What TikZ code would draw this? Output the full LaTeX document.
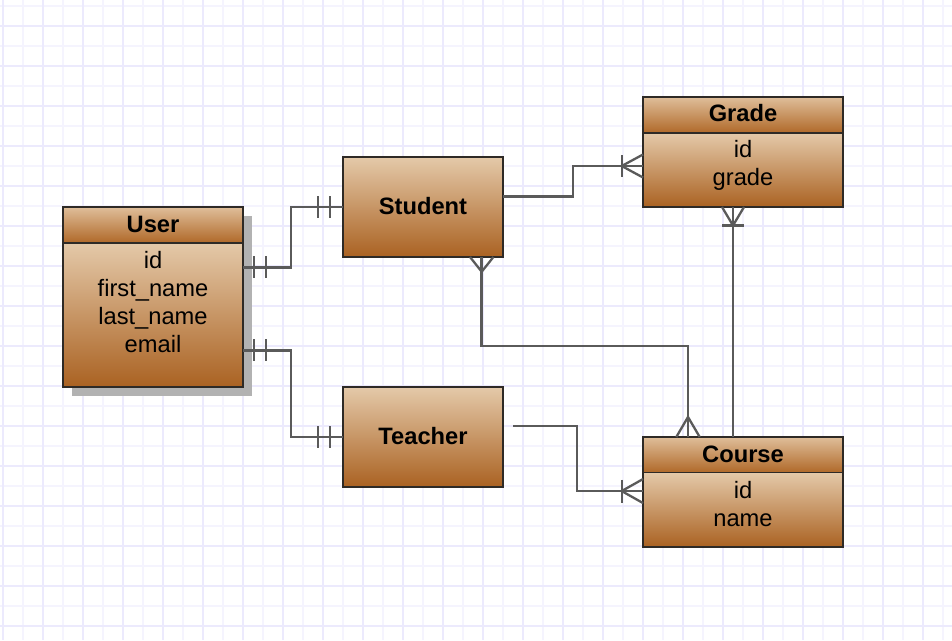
\documentclass[tikz,border=0pt]{standalone}
\usepackage{fontspec}
\setmainfont{Liberation Sans}
\usetikzlibrary{calc}
\definecolor{gmajor}{HTML}{ECEAFD}
\definecolor{gminor}{HTML}{F5F4FE}
\definecolor{btop}{HTML}{E4C9A9}
\definecolor{bbot}{HTML}{AA6222}
\definecolor{htop}{HTML}{DFBE9A}
\definecolor{hbot}{HTML}{B06929}
\definecolor{bord}{HTML}{2E2A26}
\definecolor{linec}{HTML}{5A5A5A}
\definecolor{shad}{HTML}{B2B2B2}
\tikzset{
  boxbase/.style={draw=bord, line width=1.8pt, inner sep=0pt, outer sep=0pt, anchor=north west},
  bodybox/.style={boxbase, top color=btop, bottom color=bbot},
  headbox/.style={boxbase, top color=htop, bottom color=hbot},
  txt/.style={anchor=base, inner sep=0pt, font=\fontsize{23.7}{28}\selectfont},
  btxt/.style={txt, font=\fontsize{23.7}{28}\selectfont\bfseries},
  conn/.style={draw=linec, line width=2.6pt},
  markl/.style={draw=linec, line width=2.3pt},
  gridmin/.style={draw=gminor, line width=1.6pt},
  gridmaj/.style={draw=gmajor, line width=1.8pt}
}
\begin{document}
\begin{tikzpicture}[x=1pt,y=-1pt]
\useasboundingbox (0,0) rectangle (952,640);
\fill[white] (0,0) rectangle (952,640);
% grid
\foreach \i in {0,...,47} {\draw[gridmin] ({2.7+20*\i},0) -- ({2.7+20*\i},640);}
\foreach \j in {0,...,32} {\draw[gridmin] (0,{6+20*\j}) -- (952,{6+20*\j});}
\foreach \i in {0,...,23} {\draw[gridmaj] ({2.7+40*\i},0) -- ({2.7+40*\i},640);}
\foreach \j in {0,...,15} {\draw[gridmaj] (0,{26+40*\j}) -- (952,{26+40*\j});}

% User shadow
\fill[shad] (71.5,215.5) rectangle (251.5,395.5);

% boxes
\node[headbox, minimum width=180pt, minimum height=35.7pt] (user) at (63,207) {};
\node[bodybox, minimum width=180pt, minimum height=144.3pt] (userb) at (63,242.7) {};
\node[bodybox, minimum width=160pt, minimum height=100pt] (student) at (343,157) {};
\node[bodybox, minimum width=160pt, minimum height=100pt] (teacher) at (343,387) {};
\node[headbox, minimum width=200pt, minimum height=36pt] (grade) at (643,97) {};
\node[bodybox, minimum width=200pt, minimum height=74pt] (gradeb) at (643,133) {};
\node[headbox, minimum width=200pt, minimum height=35.5pt] (course) at (643,437) {};
\node[bodybox, minimum width=200pt, minimum height=74.5pt] (courseb) at (643,472.5) {};

% texts
\node[btxt] (tuser) at (153,232) {User};
\node[txt] (tu1) at (153,268.5) {id};
\node[txt] (tu2) at (153,296.5) {first\_name};
\node[txt] (tu3) at (153,324.5) {last\_name};
\node[txt] (tu4) at (153,352.5) {email};
\node[btxt] (tstudent) at (423,214) {Student};
\node[btxt] (tteacher) at (423,444) {Teacher};
\node[btxt] (tgrade) at (743,121.5) {Grade};
\node[txt] (tg1) at (743,157.5) {id};
\node[txt] (tg2) at (743,185.5) {grade};
\node[btxt] (tcourse) at (743,462.3) {Course};
\node[txt] (tc1) at (743,498) {id};
\node[txt] (tc2) at (743,526) {name};

% User - Student
\coordinate (u1) at ($(userb.north east)+(0,24.6)$);
\draw[conn] (u1) -- ++(48,0) |- (student.west);
\draw[markl] ($(u1)+(11,-11)$) -- ++(0,22);
\draw[markl] ($(u1)+(23,-11)$) -- ++(0,22);
\draw[markl] ($(student.west)+(-25,-11)$) -- ++(0,22);
\draw[markl] ($(student.west)+(-13,-11)$) -- ++(0,22);

% User - Teacher
\coordinate (u2) at ($(userb.north east)+(0,107.7)$);
\draw[conn] (u2) -- ++(48,0) |- (teacher.west);
\draw[markl] ($(u2)+(11,-11)$) -- ++(0,22);
\draw[markl] ($(u2)+(23,-11)$) -- ++(0,22);
\draw[markl] ($(teacher.west)+(-25,-11)$) -- ++(0,22);
\draw[markl] ($(teacher.west)+(-13,-11)$) -- ++(0,22);

% Student - Grade
\coordinate (s1) at ($(student.east)+(0,-10.7)$);
\coordinate (g1) at ($(gradeb.west)+(0,-4)$);
\draw[conn] (s1) -- ++(70,0) |- (g1);
\coordinate (gp1) at ($(g1)+(-21.3,0)$);
\draw[markl] ($(g1)+(0,-11.5)$) -- (gp1) -- ($(g1)+(0,11.5)$);
\draw[markl] ($(gp1)+(0,-11)$) -- ++(0,22);

% Student - Course
\coordinate (s2) at ($(student.south)+(58.7,0)$);
\coordinate (c1) at ($(course.north)+(-55,0)$);
\draw[conn] (s2) -- ++(0,89) -| (c1);
\coordinate (sp) at ($(s2)+(0,14.7)$);
\draw[markl] ($(s2)+(-11.7,0)$) -- (sp) -- ($(s2)+(11.7,0)$);
\coordinate (cp1) at ($(c1)+(0,-20)$);
\draw[markl] ($(c1)+(-11.7,0)$) -- (cp1) -- ($(c1)+(11.7,0)$);

% Grade - Course
\coordinate (g2) at ($(gradeb.south)+(-10,0)$);
\draw[conn] (g2) -- (course.north -| g2);
\coordinate (gp2) at ($(g2)+(0,18.5)$);
\draw[markl] ($(g2)+(-11,0)$) -- (gp2) -- ($(g2)+(11,0)$);
\draw[markl] ($(gp2)+(-11,0)$) -- ++(22,0);

% Teacher - Course
\coordinate (t1) at ($(teacher.east)+(10,-11)$);
\coordinate (c2) at ($(courseb.west)+(0,-18.7)$);
\draw[conn] (t1) -- ++(64,0) |- (c2);
\coordinate (cp2) at ($(c2)+(-21.3,0)$);
\draw[markl] ($(c2)+(0,-12)$) -- (cp2) -- ($(c2)+(0,12)$);
\draw[markl] ($(cp2)+(0,-11.5)$) -- ++(0,23);
\end{tikzpicture}
\end{document}
